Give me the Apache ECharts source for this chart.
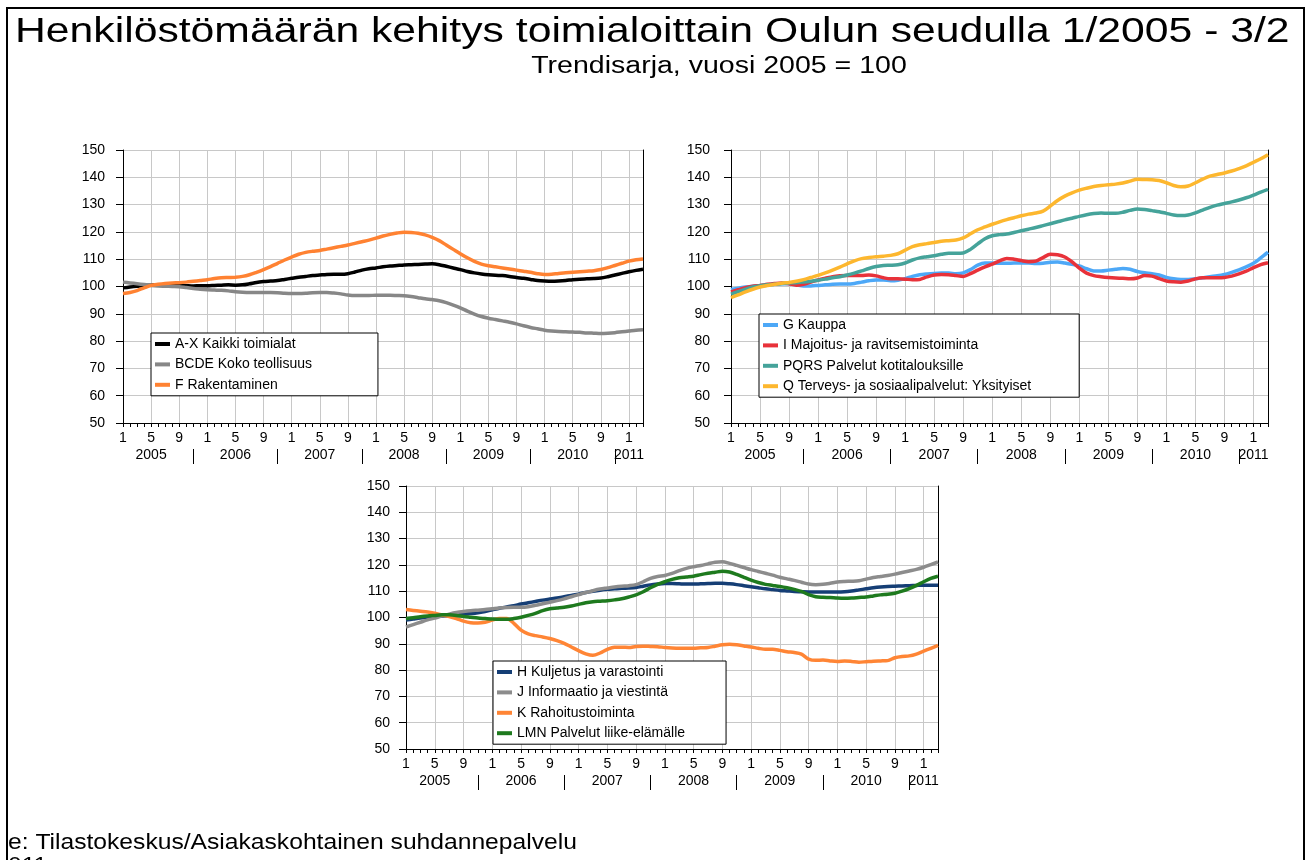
<!DOCTYPE html>
<html>
<head>
<meta charset="utf-8">
<title>Henkilöstömäärän kehitys toimialoittain Oulun seudulla</title>
<script src="https://cdn.jsdelivr.net/npm/echarts@6/dist/echarts.min.js"></script>
<style>
  html, body { margin: 0; padding: 0; background: #fff; }
  #chart { width: 1312px; height: 860px; }
</style>
</head>
<body>
<div id="chart"></div>
<script>
// kuukaudet 1/2005 - 3/2011
var years = [2005, 2006, 2007, 2008, 2009, 2010, 2011];
var yearLabels = ['2005', '2006', '2007', '2008', '2009', '2010', '2011'];
var months = [];
years.forEach(function (y) {
  var last = y === 2011 ? 3 : 12;
  for (var m = 1; m <= last; m++) months.push(y + '-' + m);
});

// paneeli 1
var axKaikki = [99.5, 99.8, 100.1, 100.4, 100.5, 100.6, 100.6, 100.5, 100.4, 100.3, 100.2, 100.3,
  100.3, 100.4, 100.5, 100.6, 100.5, 100.6, 101.0, 101.5, 101.8, 102.0, 102.2, 102.6,
  103.0, 103.4, 103.7, 104.0, 104.2, 104.4, 104.5, 104.5, 104.7, 105.3, 106.0, 106.5,
  106.8, 107.2, 107.5, 107.7, 107.9, 108.0, 108.1, 108.2, 108.3, 108.0, 107.4, 106.8,
  106.2, 105.5, 105.0, 104.6, 104.3, 104.1, 104.0, 103.7, 103.3, 103.0, 102.6, 102.2,
  102.0, 101.9, 102.0, 102.2, 102.5, 102.7, 102.8, 102.9, 103.1, 103.6, 104.2, 104.8,
  105.4, 105.9, 106.3];
var bcdeTeollisuus = [101.6, 101.3, 101.0, 100.7, 100.4, 100.2, 100.1, 100.0, 99.9, 99.6, 99.3, 99.0,
  98.8, 98.7, 98.6, 98.4, 98.1, 97.9, 97.8, 97.8, 97.8, 97.8, 97.7, 97.5,
  97.4, 97.4, 97.5, 97.7, 97.8, 97.8, 97.6, 97.3, 96.9, 96.7, 96.7, 96.7,
  96.8, 96.8, 96.8, 96.7, 96.6, 96.3, 95.9, 95.5, 95.2, 94.8, 94.1, 93.2,
  92.2, 91.0, 89.9, 89.0, 88.4, 87.9, 87.4, 86.9, 86.3, 85.6, 85.0, 84.5,
  84.0, 83.7, 83.5, 83.4, 83.3, 83.2, 83.0, 82.9, 82.8, 82.9, 83.1, 83.4,
  83.7, 84.0, 84.2];
var fRakentaminen = [97.4, 97.8, 98.5, 99.5, 100.4, 100.8, 101.1, 101.3, 101.4, 101.6, 101.9, 102.2,
  102.5, 102.9, 103.2, 103.3, 103.4, 103.7, 104.3, 105.2, 106.2, 107.3, 108.5, 109.7,
  110.8, 111.8, 112.5, 112.9, 113.2, 113.7, 114.2, 114.7, 115.2, 115.8, 116.4, 117.0,
  117.7, 118.5, 119.1, 119.6, 119.9, 119.8, 119.5, 118.9, 118.0, 116.8, 115.2, 113.6,
  112.0, 110.5, 109.2, 108.2, 107.6, 107.2, 106.8, 106.4, 106.0, 105.6, 105.2, 104.7,
  104.4, 104.5, 104.8, 105.0, 105.2, 105.4, 105.6, 105.8, 106.2, 106.9, 107.7, 108.5,
  109.3, 109.8, 110.1];

// paneeli 2
var gKauppa = [98.9, 99.4, 99.8, 100.1, 100.3, 100.5, 100.8, 101.0, 101.0, 100.6, 100.2, 100.2,
  100.4, 100.6, 100.8, 100.9, 100.9, 101.1, 101.6, 102.1, 102.4, 102.4, 102.1, 102.3,
  102.9, 103.7, 104.3, 104.6, 104.8, 104.9, 104.9, 104.7, 105.0, 106.2, 107.8, 108.6,
  108.6, 108.5, 108.5, 108.6, 108.6, 108.6, 108.4, 108.5, 108.9, 109.0, 108.6, 108.1,
  107.5, 106.5, 105.7, 105.7, 106.0, 106.3, 106.6, 106.3, 105.5, 105.0, 104.7, 104.2,
  103.3, 102.8, 102.6, 102.6, 102.8, 103.2, 103.6, 103.9, 104.4, 105.2, 106.1, 107.2,
  108.5, 110.5, 112.6];
var iMajoitus = [98.0, 98.8, 99.6, 100.1, 100.4, 100.8, 101.1, 101.3, 101.0, 100.5, 100.8, 101.6,
  102.4, 103.0, 103.6, 103.9, 104.0, 104.0, 104.0, 104.2, 103.9, 103.2, 102.8, 102.8,
  102.7, 102.5, 102.6, 103.5, 104.2, 104.4, 104.3, 104.0, 103.7, 104.7, 106.0, 107.2,
  108.2, 109.4, 110.3, 110.0, 109.5, 109.1, 109.3, 110.6, 111.8, 111.6, 110.8, 109.0,
  106.7, 104.9, 104.0, 103.6, 103.3, 103.1, 103.0, 102.8, 103.1, 104.0, 103.8, 102.9,
  102.0, 101.7, 101.6, 102.0, 102.8, 103.2, 103.2, 103.2, 103.3, 103.8, 104.6, 105.6,
  106.9, 108.0, 108.7];
var pqrsKotitaloudet = [97.2, 98.1, 99.0, 99.8, 100.3, 100.6, 100.8, 101.1, 101.3, 101.4, 101.6, 101.9,
  102.3, 102.7, 103.2, 103.6, 104.2, 104.9, 105.7, 106.6, 107.3, 107.7, 107.8, 108.0,
  108.6, 109.7, 110.5, 110.9, 111.3, 111.8, 112.2, 112.2, 112.3, 113.6, 115.6, 117.5,
  118.6, 119.0, 119.2, 119.8, 120.4, 121.0, 121.6, 122.3, 123.0, 123.7, 124.4, 125.0,
  125.7, 126.3, 126.7, 126.9, 126.8, 126.8, 127.2, 127.9, 128.4, 128.2, 127.8, 127.4,
  126.8, 126.2, 126.0, 126.2, 127.0, 128.0, 129.0, 129.8, 130.4, 131.0, 131.7, 132.5,
  133.5, 134.6, 135.6];
var qTerveys = [95.9, 96.9, 98.0, 99.0, 99.8, 100.4, 100.8, 101.2, 101.5, 101.9, 102.5, 103.3,
  104.1, 105.0, 106.0, 107.1, 108.3, 109.4, 110.2, 110.6, 110.9, 111.1, 111.4, 112.0,
  113.3, 114.6, 115.3, 115.7, 116.1, 116.6, 116.8, 117.0, 117.8, 119.3, 120.8, 121.8,
  122.8, 123.7, 124.5, 125.2, 125.9, 126.5, 126.9, 127.6, 129.5, 131.5, 133.1, 134.3,
  135.3, 136.0, 136.6, 137.0, 137.3, 137.5, 137.9, 138.6, 139.3, 139.2, 139.1, 138.8,
  138.0, 137.0, 136.5, 136.8, 138.0, 139.3, 140.4, 141.0, 141.6, 142.3, 143.2, 144.2,
  145.5, 146.8, 148.3];

// paneeli 3
var hKuljetus = [99.0, 99.4, 99.8, 100.1, 100.4, 100.6, 100.8, 101.1, 101.3, 101.5, 101.8, 102.3,
  102.9, 103.5, 104.0, 104.5, 105.1, 105.6, 106.1, 106.6, 107.0, 107.4, 107.9, 108.4,
  108.9, 109.5, 110.0, 110.4, 110.7, 110.9, 111.1, 111.2, 111.4, 111.9, 112.4, 112.7,
  112.9, 112.9, 112.8, 112.7, 112.7, 112.8, 112.9, 113.0, 113.0, 112.8, 112.5, 112.1,
  111.7, 111.3, 110.9, 110.6, 110.3, 110.1, 109.9, 109.8, 109.7, 109.7, 109.7, 109.7,
  109.7, 109.8, 110.1, 110.5, 110.9, 111.3, 111.6, 111.8, 111.9, 112.0, 112.1, 112.2,
  112.3, 112.3, 112.3];
var jInformaatio = [96.4, 97.3, 98.2, 99.1, 99.8, 100.6, 101.3, 101.9, 102.3, 102.6, 102.8, 103.0,
  103.3, 103.6, 103.8, 103.9, 103.9, 104.1, 104.6, 105.2, 105.8, 106.4, 107.1, 107.9,
  108.7, 109.5, 110.2, 110.8, 111.2, 111.6, 111.9, 112.1, 112.5, 113.6, 114.9, 115.6,
  116.0, 116.8, 117.8, 118.7, 119.3, 119.8, 120.4, 121.0, 121.2, 120.6, 119.8, 119.0,
  118.2, 117.5, 116.8, 116.1, 115.3, 114.7, 114.1, 113.4, 112.7, 112.5, 112.6, 113.0,
  113.5, 113.7, 113.8, 114.0, 114.6, 115.2, 115.6, 116.0, 116.5, 117.1, 117.7, 118.3,
  119.1, 120.1, 121.1];
var kRahoitus = [103.0, 102.7, 102.4, 102.1, 101.6, 101.0, 100.4, 99.6, 98.6, 98.0, 97.9, 98.2,
  99.0, 99.6, 99.6, 97.8, 95.2, 93.8, 93.1, 92.6, 92.0, 91.2, 90.2, 88.8,
  87.4, 86.2, 85.6, 86.5, 87.9, 88.7, 88.7, 88.6, 89.0, 89.1, 89.0, 88.9,
  88.6, 88.4, 88.3, 88.3, 88.3, 88.5, 88.6, 89.1, 89.6, 89.8, 89.6, 89.2,
  88.8, 88.3, 87.9, 87.9, 87.5, 87.0, 86.7, 86.1, 84.2, 83.7, 83.8, 83.5,
  83.3, 83.5, 83.3, 83.0, 83.2, 83.4, 83.5, 83.6, 84.7, 85.2, 85.4, 86.1,
  87.2, 88.3, 89.4];
var lmnLiike = [99.6, 99.9, 100.3, 100.6, 100.8, 101.0, 101.0, 100.8, 100.4, 100.1, 99.8, 99.6,
  99.4, 99.3, 99.3, 99.6, 100.1, 100.8, 101.6, 102.6, 103.3, 103.6, 103.9, 104.4,
  105.0, 105.6, 106.0, 106.2, 106.4, 106.7, 107.1, 107.8, 108.6, 109.8, 111.3, 112.6,
  113.6, 114.5, 115.1, 115.4, 115.7, 116.3, 116.8, 117.2, 117.6, 117.3, 116.4, 115.3,
  114.2, 113.3, 112.6, 112.2, 111.8, 111.3, 110.7, 109.9, 108.7, 107.9, 107.7, 107.6,
  107.4, 107.3, 107.4, 107.6, 107.8, 108.2, 108.6, 108.8, 109.2, 110.0, 111.0, 112.2,
  113.6, 114.9, 115.7];

var panels = [
  { grid: { left: 123, top: 150, width: 520, height: 273 }, labelMargin: 18,
    legend: { left: 151, top: 333, padRight: 66 },
    series: [
      { name: 'A-X Kaikki toimialat', data: axKaikki, color: '#000000' },
      { name: 'BCDE Koko teollisuus', data: bcdeTeollisuus, color: '#878787' },
      { name: 'F Rakentaminen', data: fRakentaminen, color: '#FF8232' }
    ] },
  { grid: { left: 731, top: 150, width: 537, height: 273 }, labelMargin: 21,
    legend: { left: 759, top: 314, padRight: 48 },
    series: [
      { name: 'G Kauppa', data: gKauppa, color: '#4DA8F7' },
      { name: 'I Majoitus- ja ravitsemistoiminta', data: iMajoitus, color: '#E8323A' },
      { name: 'PQRS Palvelut kotitalouksille', data: pqrsKotitaloudet, color: '#45A39A' },
      { name: 'Q Terveys- ja sosiaalipalvelut: Yksityiset', data: qTerveys, color: '#FDB72E' }
    ] },
  { grid: { left: 406, top: 486, width: 532, height: 263 }, labelMargin: 16,
    legend: { left: 493, top: 661, padRight: 41 },
    series: [
      { name: 'H Kuljetus ja varastointi', data: hKuljetus, color: '#153E75' },
      { name: 'J Informaatio ja viestintä', data: jInformaatio, color: '#8C8C8C' },
      { name: 'K Rahoitustoiminta', data: kRahoitus, color: '#FF8535' },
      { name: 'LMN Palvelut liike-elämälle', data: lmnLiike, color: '#1E7A1E' }
    ] }
];

var font = 'Liberation Sans';
var option = {
  animation: false,
  backgroundColor: '#fff',
  textStyle: { fontFamily: font },
  grid: [], xAxis: [], yAxis: [], legend: [], series: []
};

panels.forEach(function (p, g) {
  option.grid.push(p.grid);
  // kuukausiakseli
  option.xAxis.push({
    type: 'category', gridIndex: g, data: months, boundaryGap: false,
    axisLine: { lineStyle: { color: '#000', width: 1 } },
    axisTick: { interval: 0, length: 4, lineStyle: { color: '#000' } },
    axisLabel: {
      interval: function (i) { return i % 4 === 0; },
      formatter: function (v) { return v.split('-')[1]; },
      margin: 8, fontSize: 14, color: '#000', fontFamily: font
    },
    splitLine: { show: true, interval: function (i) { return i % 4 === 0; }, lineStyle: { color: '#c8c8c8' } }
  });
  // vuosiakseli
  option.xAxis.push({
    type: 'category', gridIndex: g, data: months, boundaryGap: false, position: 'bottom', offset: 26,
    axisLine: { show: false },
    axisTick: { show: true, interval: function (i) { return i % 12 === 10; }, length: 15, lineStyle: { color: '#000' } },
    axisLabel: {
      interval: function (i) { return i % 12 === 4 || i === 72; },
      formatter: function (v) { return yearLabels[years.indexOf(+v.split('-')[0])]; },
      margin: -1, fontSize: 14, color: '#000', fontFamily: font
    },
    splitLine: { show: false }
  });
  option.yAxis.push({
    type: 'value', gridIndex: g, min: 50, max: 150, interval: 10,
    axisLine: { show: true, lineStyle: { color: '#000' } },
    axisTick: { show: true, length: 7, lineStyle: { color: '#000' } },
    axisLabel: { margin: p.labelMargin, fontSize: 14, color: '#000', fontFamily: font },
    splitLine: { lineStyle: { color: '#c8c8c8' } }
  });
  option.yAxis.push({
    type: 'value', gridIndex: g, min: 50, max: 150, interval: 10, position: 'right',
    axisLine: { show: true, lineStyle: { color: '#000' } },
    axisTick: { show: false }, axisLabel: { show: false }, splitLine: { show: false }
  });
  option.legend.push({
    orient: 'vertical', left: p.legend.left, top: p.legend.top,
    data: p.series.map(function (s) { return s.name; }),
    icon: 'rect', itemWidth: 15, itemHeight: 4, itemGap: 6.4,
    padding: [4, p.legend.padRight, 4, 4],
    backgroundColor: '#fff', borderColor: '#000', borderWidth: 1,
    textStyle: { fontSize: 14, color: '#000', fontFamily: font, lineHeight: 14 }
  });
  p.series.forEach(function (s) {
    option.series.push({
      name: s.name, type: 'line', xAxisIndex: g * 2, yAxisIndex: g * 2,
      data: s.data, showSymbol: false, symbol: 'none', smooth: 0.3,
      lineStyle: { width: 3.5, color: s.color }, itemStyle: { color: s.color }
    });
  });
});

option.graphic = [
  { type: 'rect', shape: { x: 7, y: 8, width: 1297, height: 900 }, style: { fill: 'none', stroke: '#000', lineWidth: 2 } },
  { type: 'text', x: 15, y: 32, scaleX: 1.22,
    style: { text: 'Henkilöstömäärän kehitys toimialoittain Oulun seudulla 1/2005 - 3/2', fontSize: 35, fontFamily: font, fill: '#000', verticalAlign: 'middle' } },
  { type: 'text', x: 719, y: 67, scaleX: 1.24,
    style: { text: 'Trendisarja, vuosi 2005 = 100', fontSize: 23, fontFamily: font, fill: '#000', align: 'center', verticalAlign: 'middle' } },
  { type: 'text', x: 8, y: 843, scaleX: 1.12,
    style: { text: 'e: Tilastokeskus/Asiakaskohtainen suhdannepalvelu', fontSize: 22, fontFamily: font, fill: '#000', verticalAlign: 'middle' } },
  { type: 'text', x: 8, y: 866, scaleX: 1.12,
    style: { text: '011', fontSize: 22, fontFamily: font, fill: '#000', verticalAlign: 'middle' } }
];

var chart = echarts.init(document.getElementById('chart'));
chart.setOption(option);
</script>
</body>
</html>
